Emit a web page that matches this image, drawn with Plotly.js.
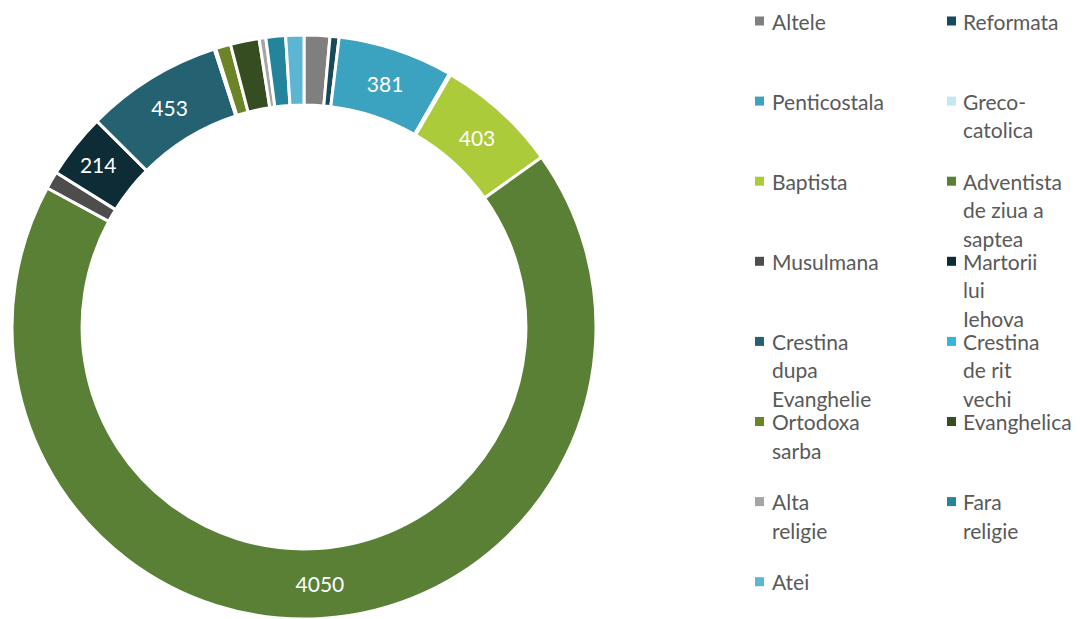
<!DOCTYPE html>
<html>
<head>
<meta charset="utf-8">
<script src="https://cdn.plot.ly/plotly-3.0.1.min.js"></script>
<style>html,body{margin:0;padding:0;background:#fff;overflow:hidden}#chart{width:1080px;height:619px}</style>
</head>
<body>
<div id="chart"></div>
<script>
// ---- data ----
const labels = ['Altele','Reformata','Penticostala','Greco-catolica','Baptista','Adventista de ziua a saptea','Musulmana','Martorii lui Iehova','Crestina dupa Evanghelie','Crestina de rit vechi','Ortodoxa sarba','Evanghelica','Alta religie','Fara religie','Atei'];
const values = [85, 30, 381, 5, 403, 4050, 58, 214, 453, 5, 50, 95, 22, 65, 60];
const legendLabels = ['Altele','Reformata','Penticostala','Greco-\ncatolica','Baptista','Adventista\nde ziua a\nsaptea','Musulmana','Martorii\nlui\nIehova','Crestina\ndupa\nEvanghelie','Crestina\nde rit\nvechi','Ortodoxa\nsarba','Evanghelica','Alta\nreligie','Fara\nreligie','Atei'];
const shownLabelMin = 200;

// ---- style ----
const colors = ['#7f7f7f','#17495a','#3ba3c0','#c4e7f2','#abcb3b','#5a8035','#4d4d4d','#0d2c35','#246272','#34b5d5','#6b8427','#354d20','#a5a5a5','#23849b','#5db6d1'];
const W = 1080, H = 619;
const FONT = 'Lato, "Open Sans", sans-serif';

const text = values.map(v => v > shownLabelMin ? String(v) : '');

const trace = {
  type: 'pie',
  labels: labels,
  values: values,
  text: text,
  textinfo: 'text',
  textposition: 'inside',
  insidetextorientation: 'horizontal',
  textfont: {family: FONT, size: 21, color: '#ffffff'},
  hole: 0.76,
  sort: false,
  direction: 'clockwise',
  rotation: 0,
  marker: {colors: colors, line: {color: '#ffffff', width: 3}},
  domain: {x: [12/W, 596/W], y: [0, 584/H]},
  showlegend: false,
  hoverinfo: 'label+value'
};

// legend built from annotations + shapes
const annotations = [];
const shapes = [];
const colX = [755, 947];
const textX = [772, 963];
const rowY0 = 21, rowStep = 80.1, lineStep = 28.5;
legendLabels.forEach((lab, i) => {
  const col = i % 2, row = Math.floor(i / 2);
  const cy = rowY0 + row * rowStep;
  shapes.push({type: 'rect', xref: 'paper', yref: 'paper',
    x0: colX[col] / W, x1: (colX[col] + 9) / W,
    y0: 1 - (cy + 4.5) / H, y1: 1 - (cy - 4.5) / H,
    fillcolor: colors[i], line: {width: 0}});
  lab.split('\n').forEach((ln, k) => {
    annotations.push({xref: 'paper', yref: 'paper', x: (textX[col] - 2) / W, y: 1 - (cy + k * lineStep) / H,
      xanchor: 'left', yanchor: 'middle', showarrow: false, text: ln,
      font: {family: FONT, size: 21, color: '#595959'}});
  });
});

const layout = {
  width: W, height: H,
  margin: {l: 0, r: 0, t: 0, b: 0},
  paper_bgcolor: '#ffffff',
  showlegend: false,
  annotations: annotations,
  shapes: shapes
};

Plotly.newPlot('chart', [trace], layout, {displayModeBar: false, staticPlot: true});
</script>
</body>
</html>
